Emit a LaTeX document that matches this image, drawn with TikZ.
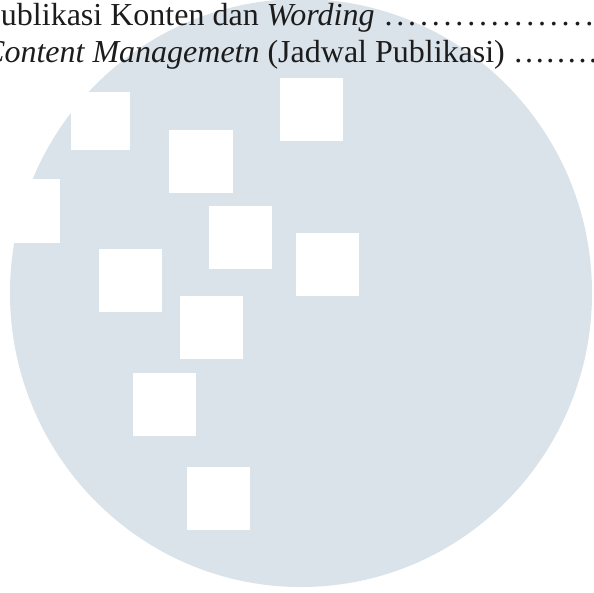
\documentclass[tikz,border=0pt]{standalone}
\usepackage{fontspec}
\setmainfont{Liberation Serif}
\definecolor{wm}{RGB}{218,226,234}
\definecolor{ink}{RGB}{28,28,28}
\newcommand{\myleader}[2]{\hbox to #1pt{\xleaders\hbox to #2pt{\hss.\hss}\hfill}}
\begin{document}
\begin{tikzpicture}[x=1pt,y=-1pt,
  sq/.style={fill=white},
  txt/.style={font=\fontsize{32}{38}\selectfont, text=ink, anchor=base west, inner sep=0pt}]
\useasboundingbox (0,0) rectangle (594,592);
\clip (0,0) rectangle (594,592);
\fill[wm] (301,293) ellipse [x radius=291pt, y radius=294pt];
% white squares
\fill[sq] (71,92) rectangle (130,150);
\fill[sq] (280,78) rectangle (343,141);
\fill[sq] (169,130) rectangle (233,193);
\fill[sq] (-3,179) rectangle (60,243);
\fill[sq] (209,206) rectangle (272,269);
\fill[sq] (296,233) rectangle (359,296);
\fill[sq] (99,249) rectangle (162,312);
\fill[sq] (180,296) rectangle (243,359);
\fill[sq] (133,373) rectangle (196,436);
\fill[sq] (187,467) rectangle (250,530);
% text
\node[txt] (l1) at (-17,25) {Publikasi Konten dan \textit{Wording} \myleader{260}{11.5}};
\node[txt] (l2) at (-17,62) {\textit{Content Managemetn} (Jadwal Publikasi) \myleader{150}{10.5}};
\end{tikzpicture}
\end{document}
